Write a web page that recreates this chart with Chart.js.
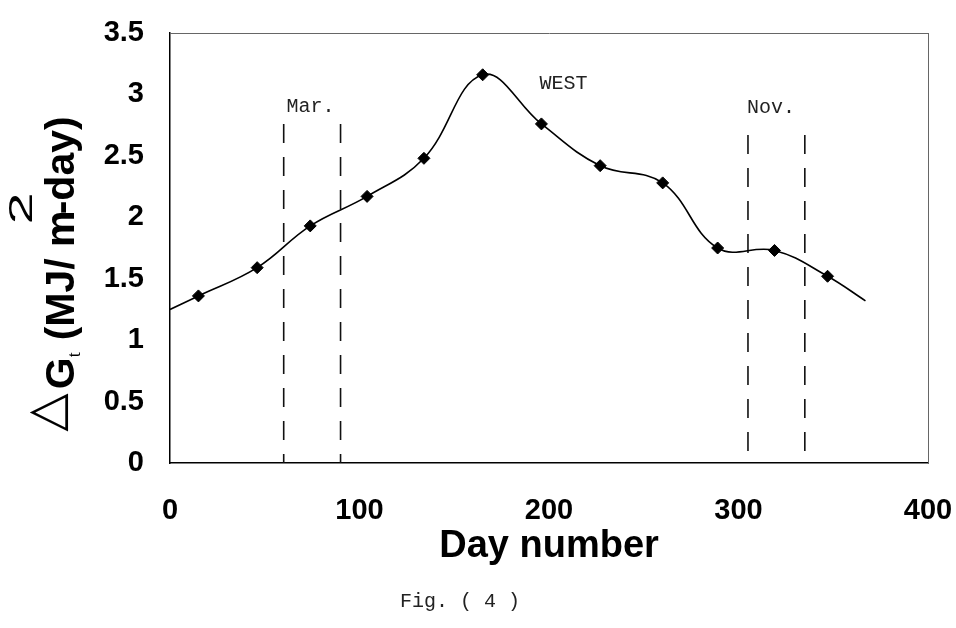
<!DOCTYPE html>
<html lang="en">
<head>
<meta charset="utf-8">
<title>Fig. (4) WEST</title>
<script src="https://cdn.jsdelivr.net/npm/chart.js@4.4.1/dist/chart.umd.min.js"></script>
<style>
  html, body { margin: 0; padding: 0; background: #fff; }
  #chart { display: block; }
</style>
</head>
<body>
<canvas id="chart" width="956" height="628"></canvas>
<script>
// Datos (día del año, MJ/m2-día)
const days = [15, 46, 74, 104, 134, 165, 196, 227, 260, 289, 319, 347];
const values = [1.36, 1.59, 1.93, 2.17, 2.48, 3.16, 2.76, 2.42, 2.28, 1.75, 1.73, 1.52];

// Extremos de la curva suavizada (sin marcador)
const curveStartDay = [0];
const curveStartValue = [1.25];
const curveEndDay = [367];
const curveEndValue = [1.32];

// Líneas discontinuas de marzo y noviembre
const monthLineDays = [60, 90, 305, 335];
const monthLineTops = [2.76, 2.76, 2.67, 2.67];

// Marcas de los ejes
const xTickValues = [0, 100, 200, 300, 400];
const yTickValues = [0, 0.5, 1, 1.5, 2, 2.5, 3, 3.5];

const boldFont = '"Liberation Sans", Arial, sans-serif';
const monoFont = '"Liberation Mono", "Courier New", monospace';

// Curva completa
const curvePoints = [
    ...curveStartDay.map((d, i) => ({ x: d, y: curveStartValue[i] })),
    ...days.map((d, i) => ({ x: d, y: values[i] })),
    ...curveEndDay.map((d, i) => ({ x: d, y: curveEndValue[i] }))
];

const datasets = [{
    label: 'WEST',
    data: curvePoints,
    borderColor: '#000',
    backgroundColor: '#000',
    borderWidth: 1.6,
    tension: 0.4,
    pointStyle: 'rectRot',
    pointRadius: ctx => (ctx.dataIndex === 0 || ctx.dataIndex === curvePoints.length - 1) ? 0 : 6,
    pointBackgroundColor: '#000',
    pointBorderColor: '#000',
    pointBorderWidth: 1
}];

// Se dibujan de arriba hacia abajo para que el trazo empiece arriba
monthLineDays.forEach((d, i) => {
    datasets.push({
        label: 'line' + i,
        data: [{ x: d, y: monthLineTops[i] }, { x: d, y: 0 }],
        borderColor: '#111',
        borderWidth: 1.6,
        borderDash: [19, 14],
        pointRadius: 0,
        tension: 0
    });
});

// Textos: título del eje Y, etiquetas de meses y pie de figura
const textPlugin = {
    id: 'textos',
    afterDraw(chart) {
        const ctx = chart.ctx;
        const sx = chart.scales.x;
        const sy = chart.scales.y;
        ctx.save();
        ctx.fillStyle = '#222';
        ctx.font = '20px ' + monoFont;
        ctx.textAlign = 'left';
        ctx.textBaseline = 'middle';
        ctx.fillText('Mar.', sx.getPixelForValue(61.5), sy.getPixelForValue(2.90));
        ctx.fillText('Nov.', sx.getPixelForValue(304.5), sy.getPixelForValue(2.89));
        ctx.fillText('WEST', sx.getPixelForValue(195), sy.getPixelForValue(3.09));
        ctx.fillText('Fig. ( 4 )', 400, 602);
        ctx.restore();

        // Título del eje Y con subíndice y superíndice
        const parts = [
            { t: '\u25B3', font: '50px "DejaVu Sans"', dy: -12, gap: 4, sx: 1 },
            { t: 'G', font: 'bold 41px ' + boldFont, dy: 0, gap: 0, sx: 1 },
            { t: 't', font: '18px "Liberation Serif"', dy: 6, gap: 12, sx: 1 },
            { t: '(MJ/ m', font: 'bold 41px ' + boldFont, dy: 0, gap: -14, sx: 1 },
            { t: '2', font: '34px ' + boldFont, dy: -42, gap: -22, sx: 1.7 },
            { t: '-day)', font: 'bold 41px ' + boldFont, dy: 0, gap: 0, sx: 1 }
        ];
        ctx.save();
        ctx.translate(74, 274);
        ctx.rotate(-Math.PI / 2);
        ctx.fillStyle = '#000';
        ctx.textBaseline = 'alphabetic';
        ctx.textAlign = 'left';
        let total = 0;
        parts.forEach(p => {
            ctx.font = p.font;
            p.w = ctx.measureText(p.t).width * p.sx;
            total += p.w + p.gap;
        });
        let pos = -total / 2;
        parts.forEach(p => {
            ctx.font = p.font;
            ctx.save();
            ctx.translate(pos, p.dy);
            ctx.scale(p.sx, 1);
            ctx.fillText(p.t, 0, 0);
            ctx.restore();
            pos += p.w + p.gap;
        });
        ctx.restore();
    }
};

const frameBorder = { display: true, color: '#666', width: 1, dash: [2, 2] };

new Chart(document.getElementById('chart'), {
    type: 'line',
    data: { datasets },
    options: {
        responsive: false,
        animation: false,
        layout: { padding: { left: 0, top: 33, right: 28, bottom: 0 } },
        plugins: {
            legend: { display: false },
            tooltip: { enabled: false }
        },
        scales: {
            x: {
                type: 'linear',
                min: 0,
                max: 400,
                afterBuildTicks: s => { s.ticks = xTickValues.map(v => ({ value: v })); },
                afterFit: s => { s.height = 165; s.paddingLeft = 0; s.paddingRight = 0; },
                grid: { display: false, drawTicks: false },
                border: { display: true, color: '#000', width: 1.5 },
                ticks: {
                    color: '#000',
                    padding: 31,
                    maxRotation: 0,
                    callback: v => String(v),
                    font: { family: boldFont, size: 29, weight: 'bold' }
                },
                title: {
                    display: true,
                    text: 'Day number',
                    color: '#000',
                    font: { family: boldFont, size: 38, weight: 'bold' },
                    padding: { top: 0, bottom: 59 }
                }
            },
            y: {
                type: 'linear',
                min: 0,
                max: 3.5,
                afterBuildTicks: s => { s.ticks = yTickValues.map(v => ({ value: v })); },
                afterFit: s => { s.width = 170; s.paddingTop = 0; s.paddingBottom = 0; },
                grid: { display: false, drawTicks: false },
                border: { display: true, color: '#000', width: 1.5 },
                ticks: {
                    color: '#000',
                    padding: 26,
                    callback: v => String(v),
                    font: { family: boldFont, size: 29, weight: 'bold' }
                }
            },
            x2: {
                type: 'linear',
                position: 'top',
                min: 0,
                max: 400,
                afterFit: s => { s.height = 0; s.paddingLeft = 0; s.paddingRight = 0; },
                grid: { display: false, drawTicks: false },
                ticks: { display: false },
                border: frameBorder
            },
            y2: {
                type: 'linear',
                position: 'right',
                min: 0,
                max: 3.5,
                afterFit: s => { s.width = 0; s.paddingTop = 0; s.paddingBottom = 0; },
                grid: { display: false, drawTicks: false },
                ticks: { display: false },
                border: frameBorder
            }
        }
    },
    plugins: [textPlugin]
});
</script>
</body>
</html>
